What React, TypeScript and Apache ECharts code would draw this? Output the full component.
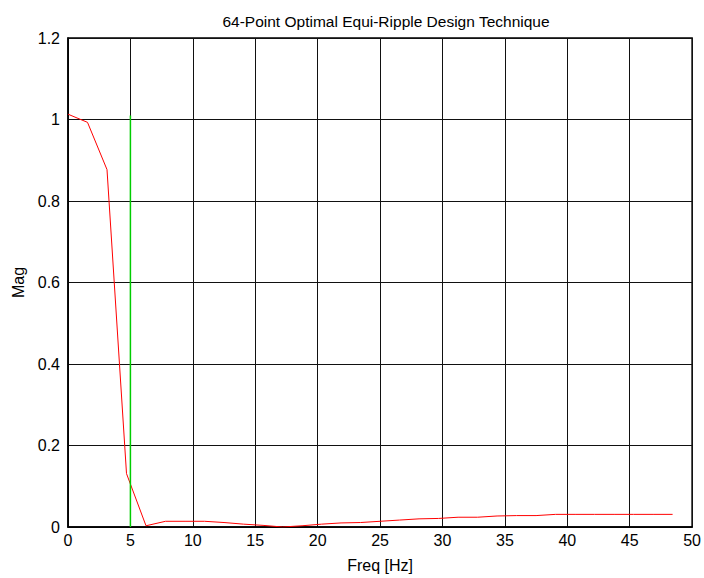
import React, { useEffect, useRef } from "react";
import * as echarts from "echarts";

const freqs: number[] = [
  0, 1.5625, 3.125, 4.6875, 6.25, 7.8125, 9.375, 10.9375, 12.5, 14.0625, 15.625,
  17.1875, 18.75, 20.3125, 21.875, 23.4375, 25, 26.5625, 28.125, 29.6875, 31.25,
  32.8125, 34.375, 35.9375, 37.5, 39.0625, 40.625, 42.1875, 43.75, 45.3125, 46.875,
  48.4375,
];
const mags: number[] = [
  1.013, 0.993, 0.877, 0.131, 0.003, 0.014, 0.014, 0.014, 0.011, 0.007, 0.004,
  0.0, 0.003, 0.007, 0.01, 0.011, 0.014, 0.017, 0.02, 0.021, 0.024, 0.024, 0.027,
  0.028, 0.028, 0.031, 0.031, 0.031, 0.031, 0.031, 0.031, 0.031,
];
const cutoffX: number[] = [5, 5];
const cutoffY: number[] = [0, 1.01];

const FONT = "'Liberation Sans', Arial, sans-serif";

export default function App() {
  const ref = useRef<HTMLDivElement>(null);
  useEffect(() => {
    if (!ref.current) return;
    const chart = echarts.init(ref.current, undefined, { renderer: "svg" });
    chart.setOption({
      animation: false,
      backgroundColor: "#ffffff",
      title: {
        text: "64-Point Optimal Equi-Ripple Design Technique",
        left: 381,
        top: 8,
        textAlign: "center",
        textStyle: { fontFamily: FONT, fontSize: 15.5, fontWeight: "normal", color: "#000" },
      },
      grid: {
        left: 68,
        right: 10,
        top: 38,
        bottom: 47,
        show: true,
        borderColor: "#000",
        borderWidth: 1.5,
        backgroundColor: "transparent",
      },
      xAxis: {
        type: "value",
        min: 0,
        max: 50,
        interval: 5,
        name: "Freq [Hz]",
        nameLocation: "middle",
        nameGap: 30,
        nameTextStyle: { fontFamily: FONT, fontSize: 16, color: "#000" },
        axisLine: { show: true, onZero: false, lineStyle: { color: "#000", width: 1.5 } },
        axisTick: { show: false },
        axisLabel: { fontFamily: FONT, fontSize: 16, color: "#000", margin: 5 },
        splitLine: { show: true, lineStyle: { color: "#111", width: 1 } },
      },
      yAxis: {
        type: "value",
        min: 0,
        max: 1.2,
        interval: 0.2,
        name: "Mag",
        nameLocation: "middle",
        nameGap: 34,
        nameRotate: 90,
        nameTextStyle: { fontFamily: FONT, fontSize: 16, color: "#000" },
        axisLine: { show: true, lineStyle: { color: "#000", width: 1.5 } },
        axisTick: { show: false },
        axisLabel: {
          fontFamily: FONT,
          fontSize: 16,
          color: "#000",
          margin: 8,
          formatter: (v: number) => String(Math.round(v * 10) / 10),
        },
        splitLine: { show: true, lineStyle: { color: "#111", width: 1 } },
      },
      series: [
        {
          type: "line",
          data: freqs.map((f, i) => [f, mags[i]]),
          showSymbol: false,
          lineStyle: { color: "#ff0000", width: 1 },
          z: 3,
        },
        {
          type: "line",
          data: cutoffX.map((f, i) => [f, cutoffY[i]]),
          showSymbol: false,
          lineStyle: { color: "#00cc00", width: 1.5 },
          z: 4,
        },
      ],
    });
    return () => chart.dispose();
  }, []);
  return (
    <div
      ref={ref}
      style={{ position: "absolute", left: 0, top: 0, width: 704, height: 578 }}
    />
  );
}
